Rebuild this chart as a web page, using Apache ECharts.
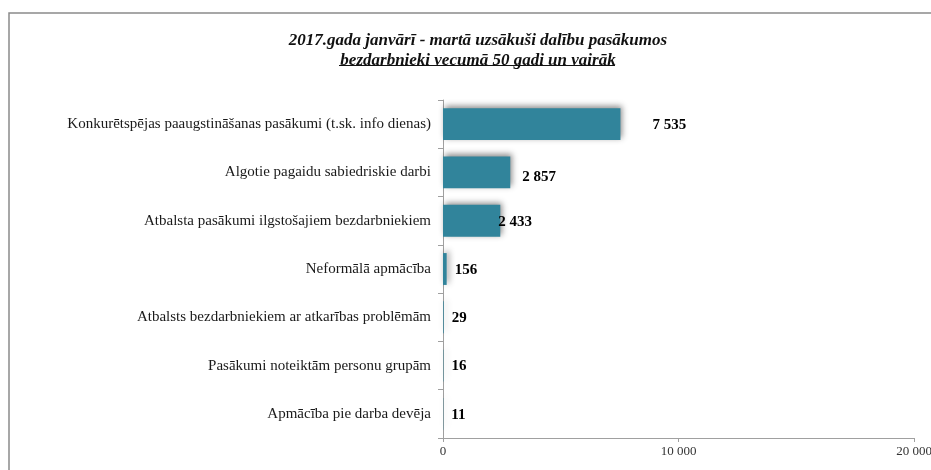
<!DOCTYPE html>
<html>
<head>
<meta charset="utf-8">
<script src="https://cdn.jsdelivr.net/npm/echarts@6/dist/echarts.min.js"></script>
<style>
  html, body { margin: 0; padding: 0; background: #fff; }
  #main { width: 931px; height: 470px; }
</style>
</head>
<body>
<div id="main"></div>
<script>
// categories, top to bottom
var categories = [
  "Konkurētspējas paaugstināšanas pasākumi (t.sk. info dienas)",
  "Algotie pagaidu sabiedriskie darbi",
  "Atbalsta pasākumi ilgstošajiem bezdarbniekiem",
  "Neformālā apmācība",
  "Atbalsts bezdarbniekiem ar atkarības problēmām",
  "Pasākumi noteiktām personu grupām",
  "Apmācība pie darba devēja"
];
var participants = [7535, 2857, 2433, 156, 29, 16, 11];
var xTicks = [0, 10000, 20000];

// label shift to the right of bar end (as in the source chart)
var labelShift = [28, 8, -6, 4, 4, 4, 4];

function fmt(v) {
  return String(v).replace(/\B(?=(\d{3})+(?!\d))/g, " ");
}

var myChart = echarts.init(document.getElementById("main"));

var option = {
  animation: false,
  title: {
    text: "2017.gada janvārī - martā uzsākuši dalību pasākumos\nbezdarbnieki vecumā 50 gadi un vairāk",
    left: 473,
    textAlign: "center",
    top: 26,
    textStyle: {
      fontFamily: "Liberation Serif",
      fontStyle: "italic",
      fontWeight: "bold",
      fontSize: 17,
      lineHeight: 20,
      color: "#111"
    }
  },
  graphic: [
    {
      // frame of the chart area
      type: "rect",
      shape: { x: 9, y: 13, width: 940, height: 480 },
      style: { fill: "none", stroke: "#8a8a8a", lineWidth: 1.5 },
      silent: true
    },
    {
      // underline of the second title line
      type: "line",
      shape: { x1: 339, y1: 65.5, x2: 615, y2: 65.5 },
      style: { stroke: "#111", lineWidth: 1 },
      silent: true
    }
  ],
  grid: {
    left: 443,
    right: 17,
    top: 100,
    bottom: 32,
    containLabel: false,
    outerBoundsMode: "none"
  },
  xAxis: {
    type: "value",
    min: 0,
    max: 20000,
    interval: 10000,
    splitLine: { show: false },
    axisLine: { show: true, lineStyle: { color: "#a0a0a0" } },
    axisTick: { show: true, length: 4, lineStyle: { color: "#a0a0a0" } },
    axisLabel: {
      fontFamily: "Liberation Serif",
      fontSize: 13,
      color: "#333",
      margin: 7,
      formatter: function (v) { return xTicks.indexOf(v) >= 0 ? fmt(v) : ""; }
    }
  },
  yAxis: {
    type: "category",
    data: categories,
    inverse: true,
    axisLine: { show: true, lineStyle: { color: "#a0a0a0" } },
    axisTick: { show: true, length: 5, lineStyle: { color: "#a0a0a0" } },
    axisLabel: {
      fontFamily: "Liberation Serif",
      fontSize: 15,
      color: "#1a1a1a",
      margin: 12
    }
  },
  series: [
    {
      type: "bar",
      barWidth: "66%",
      data: participants.map(function (v, i) {
        return {
          value: v,
          label: { offset: [labelShift[i], i === 1 ? 5 : 1] }
        };
      }),
      itemStyle: {
        color: "#31849b",
        shadowColor: "rgba(0,0,0,0.45)",
        shadowBlur: 6,
        shadowOffsetX: 2,
        shadowOffsetY: -2
      },
      label: {
        show: true,
        position: "right",
        distance: 4,
        fontFamily: "Liberation Serif",
        fontWeight: "bold",
        fontSize: 15,
        color: "#000",
        formatter: function (p) { return fmt(p.value); }
      }
    }
  ]
};

myChart.setOption(option);
</script>
</body>
</html>
